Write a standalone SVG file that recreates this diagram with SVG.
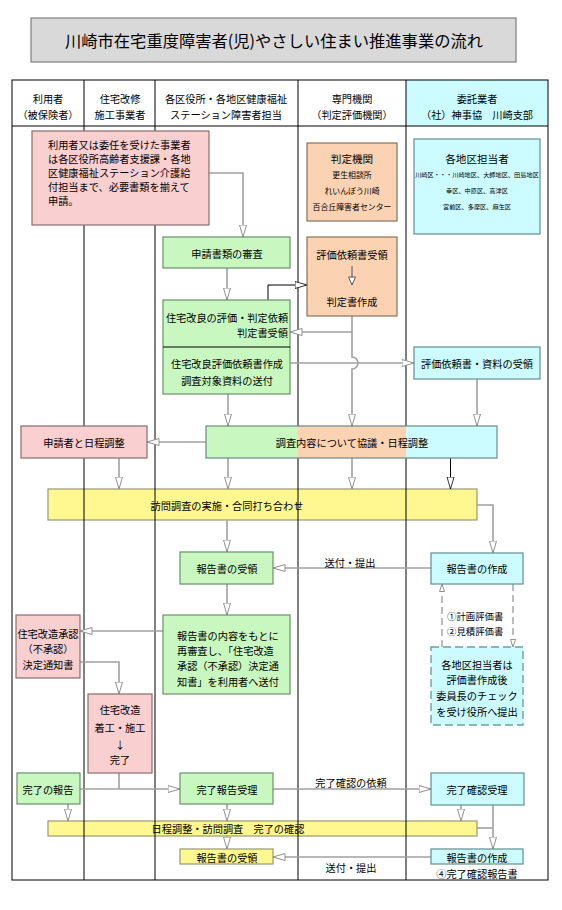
<svg xmlns="http://www.w3.org/2000/svg" width="562" height="910" viewBox="0 0 562 910">
<style>
text{font-family:"Noto Sans CJK JP","Noto Sans CJK SC",sans-serif;font-size:10.2px;fill:#000;dominant-baseline:central}
.m{text-anchor:middle}
.e{text-anchor:end}
.lane{stroke:#000;stroke-width:1;fill:none}
.c{stroke:#a0a0a0;stroke-width:1.6;fill:none;marker-end:url(#a)}
.cn{stroke:#a0a0a0;stroke-width:1.6;fill:none}
.cb{stroke:#000;stroke-width:1;fill:none;marker-end:url(#ab)}
.cd{stroke:#909090;stroke-width:1.2;stroke-dasharray:7,4;fill:none;marker-end:url(#as)}
.pink{fill:#f9cfd0;stroke:#8a6d6d;stroke-width:1.2}
.green{fill:#c8f8c0;stroke:#6b8f6b;stroke-width:1.2}
.orange{fill:#fbd3b3;stroke:#8c7258;stroke-width:1.2}
.cyan{fill:#ccfcff;stroke:#5f8f90;stroke-width:1.2}
.yellow{fill:#fff891;stroke:#999970;stroke-width:1.2}
.dash{fill:#ccfcff;stroke:#6f9f9f;stroke-width:1.4;stroke-dasharray:8,4}
.s8{font-size:7.9px}
.s6{font-size:6.2px}
.s11{font-size:10.6px}
.s9{font-size:9.4px}
</style>
<defs>
<marker id="a" markerUnits="userSpaceOnUse" markerWidth="14" markerHeight="9" refX="12.5" refY="4" orient="auto" viewBox="0 0 14 9"><path d="M0.5,0.5 L12.5,4 L0.5,7.5 Z" fill="#fff" stroke="#909090" stroke-width="1"/></marker>
<marker id="ab" markerUnits="userSpaceOnUse" markerWidth="14" markerHeight="9" refX="12.5" refY="4" orient="auto" viewBox="0 0 14 9"><path d="M0.5,0.5 L12.5,4 L0.5,7.5 Z" fill="#fff" stroke="#000" stroke-width="0.8"/></marker>
<marker id="as" markerUnits="userSpaceOnUse" markerWidth="9" markerHeight="7" refX="8" refY="3" orient="auto" viewBox="0 0 9 7"><path d="M0.5,0.5 L8,3 L0.5,5.5 Z" fill="#fff" stroke="#909090" stroke-width="1"/></marker>
</defs>
<rect width="562" height="910" fill="#fff"/>
<g id="title">
<rect x="31" y="18" width="485" height="44" fill="#d9d9d9" stroke="#7f7f7f" stroke-width="1.2"/>
<text x="274" y="40" class="m" style="font-size:16.3px">川崎市在宅重度障害者(児)やさしい住まい推進事業の流れ</text>
</g>
<g id="header">
<rect x="406" y="80" width="142" height="46" fill="#ccfcff"/>
<text x="48" y="98" class="m">利用者</text>
<text x="48" y="114" class="m">（被保険者）</text>
<text x="120" y="98" class="m">住宅改修</text>
<text x="120" y="114" class="m">施工事業者</text>
<text x="226" y="98" class="m">各区役所・各地区健康福祉</text>
<text x="226" y="114" class="m">ステーション障害者担当</text>
<text x="352" y="98" class="m">専門機関</text>
<text x="352" y="114" class="m">（判定評価機関）</text>
<text x="477" y="98" class="m">委託業者</text>
<text x="477" y="114" class="m">（社）神事協　川崎支部</text>
</g>
<g id="n-visit">
<rect x="48" y="489" width="429" height="31" class="yellow"/>
<text x="227" y="505" class="m">訪問調査の実施・合同打ち合わせ</text>
</g>
<g id="n-confirm">
<rect x="48" y="821" width="429" height="15" class="yellow"/>
<text x="228" y="828" class="m">日程調整・訪問調査　完了の確認</text>
</g>
<g id="lanes">
<rect x="12" y="80" width="536" height="800" class="lane"/>
<line x1="12" y1="126" x2="548" y2="126" class="lane"/>
<line x1="84" y1="80" x2="84" y2="880" class="lane"/>
<line x1="155" y1="80" x2="155" y2="880" class="lane"/>
<line x1="298" y1="80" x2="298" y2="880" class="lane"/>
<line x1="406" y1="80" x2="406" y2="880" class="lane"/>
</g>
<g id="connectors">
<path d="M209,173 H243 V237" class="c"/>
<path d="M227,268 V300" class="c"/>
<path d="M268,300 V285 H307" class="cb"/>
<path d="M352,316 V357 A6,6 0 0 1 352,369 V426" class="c"/>
<path d="M352,332 H290" class="c"/>
<path d="M290,363 H414" class="c"/>
<path d="M477,379 V426" class="c"/>
<path d="M228,394 V426" class="c"/>
<path d="M206,442 H147" class="c"/>
<path d="M119,458 V489" class="c"/>
<path d="M228,458 V489" class="c"/>
<path d="M352,458 V489" class="c"/>
<path d="M450.5,458 V489" class="cb"/>
<path d="M477,505 H493 V553" class="c"/>
<path d="M227,520 V552" class="c"/>
<path d="M431,568 H273" class="c"/>
<text x="350" y="562" class="m">送付・提出</text>
<path d="M227,584 V615" class="c"/>
<path d="M163,631 H80" class="c"/>
<path d="M80,662 H119 V694" class="c"/>
<path d="M442,647 V584" class="cd"/>
<path d="M513,584 V647" class="cd"/>
<path d="M119,773 V789" class="cn"/>
<path d="M80,789 H180" class="c"/>
<path d="M68,804 V821" class="c"/>
<path d="M227,804 V821" class="c"/>
<path d="M227,836 V849" class="c"/>
<path d="M273,789 H431" class="c"/>
<text x="351" y="782" class="m">完了確認の依頼</text>
<path d="M461,805 V821" class="c"/>
<path d="M477,828 H493" class="cn"/>
<path d="M493,805 V849" class="c"/>
<path d="M431,857 H273" class="c"/>
<text x="351" y="867" class="m">送付・提出</text>
</g>
<g id="n-apply">
<rect x="32" y="131" width="177" height="94" class="pink"/>
<text x="48" y="144">利用者又は委任を受けた事業者</text>
<text x="48" y="158">は各区役所高齢者支援課・各地</text>
<text x="48" y="172">区健康福祉ステーション介護給</text>
<text x="48" y="186">付担当まで、必要書類を揃えて</text>
<text x="48" y="200">申請。</text>
</g>
<g id="n-review">
<rect x="163" y="237" width="127" height="31" class="green"/>
<text x="227" y="253" class="m">申請書類の審査</text>
</g>
<g id="n-eval">
<rect x="163" y="300" width="127" height="94" class="green"/>
<line x1="163" y1="347" x2="290" y2="347" stroke="#000" stroke-width="1"/>
<text x="227" y="317" class="m">住宅改良の評価・判定依頼</text>
<text x="288" y="332" class="e">判定書受領</text>
<text x="227" y="363" class="m">住宅改良評価依頼書作成</text>
<text x="227" y="380" class="m">調査対象資料の送付</text>
</g>
<g id="n-agency">
<rect x="307" y="143" width="90" height="78" class="orange"/>
<text x="352" y="158" class="m s11">判定機関</text>
<text x="352" y="174" class="m s8">更生相談所</text>
<text x="352" y="190" class="m s8">れいんぼう川崎</text>
<text x="352" y="206" class="m s8">百合丘障害者センター</text>
</g>
<g id="n-judge">
<rect x="307" y="237" width="90" height="79" class="orange"/>
<text x="352" y="254" class="m">評価依頼書受領</text>
<line x1="352" y1="266" x2="352" y2="277" stroke="#555" stroke-width="1"/>
<path d="M348.5,277 L355.5,277 L352,285 Z" fill="#fff" stroke="#555" stroke-width="1"/>
<text x="352" y="301" class="m">判定書作成</text>
</g>
<g id="n-staff">
<rect x="414" y="139" width="126" height="95" class="cyan"/>
<text x="477" y="158" class="m s11">各地区担当者</text>
<text x="477" y="174" class="m s6">川崎区・・・川崎地区、大師地区、田島地区</text>
<text x="477" y="190" class="m s6">幸区、中原区、高津区</text>
<text x="477" y="206" class="m s6">宮前区、多摩区、麻生区</text>
</g>
<g id="n-receive">
<rect x="414" y="347" width="126" height="32" class="cyan"/>
<text x="477" y="363" class="m">評価依頼書・資料の受領</text>
</g>
<g id="n-discuss">
<rect x="206" y="426" width="92" height="32" fill="#c8f8c0"/>
<rect x="298" y="426" width="108" height="32" fill="#fbd3b3"/>
<rect x="406" y="426" width="91" height="32" fill="#ccfcff"/>
<rect x="206" y="426" width="291" height="32" fill="none" stroke="#6b8a8a" stroke-width="1.2"/>
<text x="352" y="442" class="m">調査内容について協議・日程調整</text>
</g>
<g id="n-schedule">
<rect x="21" y="426" width="126" height="32" class="pink"/>
<text x="84" y="442" class="m">申請者と日程調整</text>
</g>
<g id="n-report-recv">
<rect x="180" y="552" width="93" height="32" class="green"/>
<text x="227" y="568" class="m">報告書の受領</text>
</g>
<g id="n-report-make">
<rect x="431" y="553" width="92" height="31" class="cyan"/>
<text x="477" y="568" class="m">報告書の作成</text>
</g>
<g id="n-eval-docs">
<text x="447" y="616" class="s9">①計画評価書</text>
<text x="447" y="631" class="s9">②見積評価書</text>
</g>
<g id="n-check">
<rect x="431" y="647" width="92" height="78" class="dash"/>
<text x="477" y="664" class="m">各地区担当者は</text>
<text x="477" y="679" class="m">評価書作成後</text>
<text x="477" y="695" class="m">委員長のチェック</text>
<text x="477" y="711" class="m">を受け役所へ提出</text>
</g>
<g id="n-rereview">
<rect x="163" y="615" width="127" height="79" class="green"/>
<text x="177" y="635">報告書の内容をもとに</text>
<text x="177" y="650">再審査し、「住宅改造</text>
<text x="177" y="665">承認（不承認）決定通</text>
<text x="177" y="681">知書」を利用者へ送付</text>
</g>
<g id="n-notice">
<rect x="16" y="615" width="64" height="63" class="pink"/>
<text x="48" y="633" class="m">住宅改造承認</text>
<text x="48" y="648" class="m">（不承認）</text>
<text x="48" y="664" class="m">決定通知書</text>
</g>
<g id="n-work">
<rect x="88" y="694" width="64" height="79" class="pink"/>
<text x="120" y="709" class="m">住宅改造</text>
<text x="120" y="727" class="m">着工・施工</text>
<text x="120" y="744" class="m">↓</text>
<text x="120" y="759" class="m">完了</text>
</g>
<g id="n-done">
<rect x="17" y="773" width="63" height="31" class="green"/>
<text x="48" y="789" class="m">完了の報告</text>
</g>
<g id="n-done-recv">
<rect x="180" y="773" width="93" height="31" class="green"/>
<text x="227" y="789" class="m">完了報告受理</text>
</g>
<g id="n-confirm-recv">
<rect x="431" y="773" width="93" height="32" class="cyan"/>
<text x="477" y="789" class="m">完了確認受理</text>
</g>
<g id="n-final-recv">
<rect x="180" y="849" width="93" height="15" class="yellow"/>
<text x="227" y="857" class="m">報告書の受領</text>
</g>
<g id="n-final-make">
<rect x="431" y="849" width="92" height="15" class="cyan"/>
<text x="477" y="857" class="m">報告書の作成</text>
<text x="477" y="873" class="m">④完了確認報告書</text>
</g>
</svg>
